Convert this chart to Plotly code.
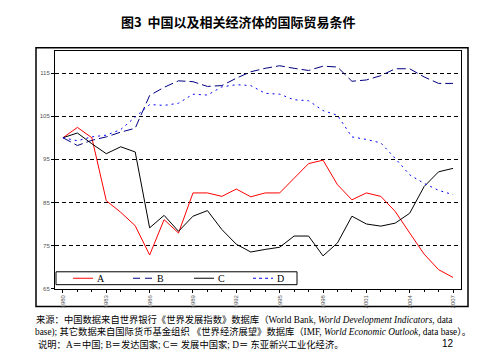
import plotly.graph_objects as go

years = list(range(1980, 2008))
series_a = [100, 102.4, 100, 85.4, 82.7, 79.6, 72.8, 81, 77.9, 87.2, 87.2, 86.4, 88.1, 86.3,
            87.2, 87.2, 90.6, 94.0, 94.8, 89.1, 85.6, 87.2, 86.4, 82.9, 77.9, 73.0, 69.4, 67.6]
series_b = [100, 98.2, 99.4, 100.2, 101.3, 102.2, 109.8, 111.7, 113.2, 113.0, 111.9, 112.1, 113.8, 115.3,
            116.1, 116.7, 116.1, 115.6, 116.6, 116.4, 113.1, 113.4, 114.4, 116.0, 116.0, 114.1, 112.6, 112.6]
series_c = [100, 101.1, 98.6, 96.3, 97.9, 96.7, 79.1, 82.0, 78.3, 81.8, 83.1, 78.7, 75.3, 73.5,
            74.1, 74.6, 77.2, 77.2, 72.6, 75.6, 81.8, 80.0, 79.5, 80.2, 82.5, 88.7, 92.1, 92.9]
series_d = [100, 99.3, 100.2, 100.6, 101.9, 104.9, 107.7, 107.5, 108.0, 110.1, 109.9, 111.8, 112.3, 112.1,
            110.3, 110.1, 108.8, 108.6, 106.3, 105.2, 100.2, 99.6, 98.8, 95.2, 91.4, 89.4, 87.8, 86.8]
names = ["A", "B", "C", "D"]
x_tick_years = [1980, 1983, 1986, 1989, 1992, 1995, 1998, 2001, 2004, 2007]
x_tick_labels = [str(y) for y in x_tick_years]
y_ticks = [65, 75, 85, 95, 105, 115]

title = "图3  中国以及相关经济体的国际贸易条件"
note1 = "来源：中国数据来自世界银行《世界发展指数》数据库（World Bank, <i>World Development Indicators</i>, data"
note2 = "base); 其它数据来自国际货币基金组织 《世界经济展望》数据库（IMF, <i>World Economic Outlook</i>, data base）。"
note3 = "说明：A＝中国; B＝发达国家; C＝ 发展中国家; D＝ 东亚新兴工业化经济。"
page_no = "12"

W, H = 480, 361
def px(x):
    return x / W
def py(y):
    return (H - y) / H

SERIF = "Liberation Serif, Noto Sans CJK SC, serif"

fig = go.Figure()
styles = [
    dict(color="#FF0000", width=1),
    dict(color="#000080", width=1, dash="9px,4px"),
    dict(color="#000000", width=1),
    dict(color="#0000FF", width=1, dash="2px,4px"),
]
legend_styles = [
    dict(color="#FF0000", width=1),
    dict(color="#000080", width=1, dash="7px,5px"),
    dict(color="#000000", width=1),
    dict(color="#0000FF", width=1, dash="3px,3px"),
]
for name, vals, st in zip(names, [series_a, series_b, series_c, series_d], styles):
    fig.add_trace(go.Scatter(x=years, y=vals, mode="lines", name=name, line=st))

fig.update_layout(
    width=W, height=H,
    margin=dict(l=0, r=0, t=0, b=0),
    paper_bgcolor="white", plot_bgcolor="white",
    showlegend=False,
    xaxis=dict(
        domain=[px(47), px(453)], range=[1979.45, 2007.55],
        tickvals=x_tick_years, ticktext=x_tick_labels, tickangle=-90,
        tickfont=dict(family="Liberation Sans, Arial", size=6, color="#555"),
        showgrid=False, zeroline=False,
        showline=True, linecolor="black", linewidth=1, mirror=True,
        ticks="outside", ticklen=3, tickcolor="black",
        minor=dict(tick0=1980, dtick=1, ticks="outside", ticklen=2, tickcolor="black", showgrid=False),
    ),
    yaxis=dict(
        domain=[py(283), py(43)], range=[65, 120.2],
        tickvals=y_ticks, ticktext=[str(v) for v in y_ticks],
        tickfont=dict(family="Liberation Sans, Arial", size=6, color="#555"),
        showgrid=True, gridcolor="black", gridwidth=1, griddash="4px,3px",
        zeroline=False,
        showline=True, linecolor="black", linewidth=1, mirror=True,
        ticks="outside", ticklen=3, tickcolor="black",
    ),
)

fig.add_shape(type="rect", xref="paper", yref="paper",
              x0=px(28), x1=px(460), y0=py(301), y1=py(40),
              line=dict(color="black", width=1.5), fillcolor="rgba(0,0,0,0)", layer="below")

# legend box drawn by hand (compact, as in the reference)
fig.add_shape(type="rect", xref="paper", yref="paper",
              x0=px(48), x1=px(289), y0=py(279), y1=py(266),
              line=dict(color="black", width=1), fillcolor="white", layer="above")
leg_x0 = [65, 125, 186, 245]
for name, st, lx in zip(names, legend_styles, leg_x0):
    fig.add_shape(type="line", xref="paper", yref="paper",
                  x0=px(lx), x1=px(lx + 20), y0=py(272.5), y1=py(272.5),
                  line=st, layer="above")
    fig.add_annotation(text=name, xref="paper", yref="paper", x=px(lx + 22), y=py(273),
                       xanchor="left", yanchor="middle", showarrow=False,
                       font=dict(family=SERIF, size=10, color="black"))

fig.add_annotation(text="<b>" + title + "</b>", xref="paper", yref="paper",
                   x=px(230), y=py(2), xanchor="center", yanchor="top", showarrow=False,
                   font=dict(family="Noto Sans CJK SC", size=13, color="black"))

for txt, yy, xx in [(note1, 314, 26), (note2, 327, 25), (note3, 339, 28)]:
    fig.add_annotation(text=txt, xref="paper", yref="paper", x=px(xx), y=py(yy),
                       xanchor="left", yanchor="middle", showarrow=False,
                       font=dict(family=SERIF, size=9.3, color="black"))
fig.add_annotation(text=page_no, xref="paper", yref="paper", x=px(448), y=py(338),
                   xanchor="right", yanchor="middle", showarrow=False,
                   font=dict(family="Liberation Sans, Arial", size=10, color="black"))

fig.write_html("out.html")
